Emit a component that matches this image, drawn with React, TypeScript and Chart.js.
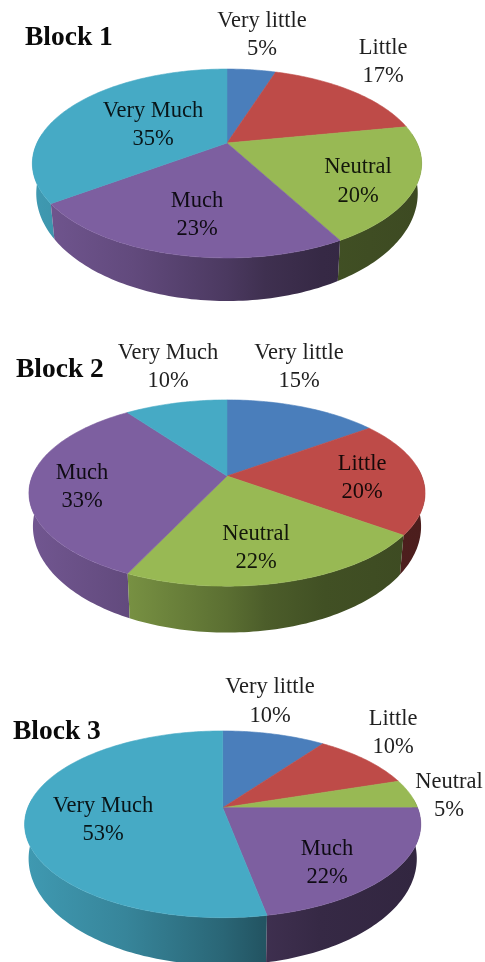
import { useEffect, useRef } from "react";
import { Chart, registerables } from "chart.js";

Chart.register(...registerables);

const categories = ["Very little", "Little", "Neutral", "Much", "Very Much"];
const sliceColors = ["#4a7ebb", "#be4b48", "#98b954", "#7d5fa0", "#46aac5"];

const blockOneValues = [5, 17, 20, 23, 35];
const blockTwoValues = [15, 20, 22, 33, 10];
const blockThreeValues = [10, 10, 5, 22, 53];

// Brightness of the rim from the left edge of the pie to the right edge.
const rimShade: [number, number][] = [
  [0, 0.9],
  [0.25, 0.78],
  [0.5, 0.6],
  [0.6, 0.5],
  [0.75, 0.43],
  [1, 0.4],
];

type LabelSpot = [x: number, firstBaseline: number, secondBaseline: number];

type Block = {
  title: string;
  titleSpot: [number, number];
  values: number[];
  top: number;
  height: number;
  centerX: number;
  centerY: number;
  radius: number;
  squash: number;
  tilt: number;
  rimDrop: number;
  labelSpots: LabelSpot[];
};

const blocks: Block[] = [
  {
    title: "Block 1",
    titleSpot: [25, 45],
    values: blockOneValues,
    top: 0,
    height: 320,
    centerX: 227,
    centerY: 143,
    radius: 190,
    squash: 90 / 190,
    tilt: 0.217,
    rimDrop: 27,
    labelSpots: [
      [262, 27, 55],
      [383, 54, 82],
      [358, 173, 202],
      [197, 207, 235],
      [153, 117, 145],
    ],
  },
  {
    title: "Block 2",
    titleSpot: [16, 377],
    values: blockTwoValues,
    top: 320,
    height: 320,
    centerX: 227,
    centerY: 476,
    radius: 194.7,
    squash: 90 / 194.7,
    tilt: 0.183,
    rimDrop: 31,
    labelSpots: [
      [299, 359, 387],
      [362, 470, 498],
      [256, 540, 568],
      [82, 479, 507],
      [168, 359, 387],
    ],
  },
  {
    title: "Block 3",
    titleSpot: [13, 739],
    values: blockThreeValues,
    top: 640,
    height: 322,
    centerX: 222.7,
    centerY: 807.7,
    radius: 194.9,
    squash: 90.4 / 194.9,
    tilt: 0.178,
    rimDrop: 32,
    labelSpots: [
      [270, 693, 722],
      [393, 725, 753],
      [449, 788, 816],
      [327, 855, 883],
      [103, 812, 840],
    ],
  },
];

const CANVAS_WIDTH = 485;

function shadeColor(hex: string, factor: number): string {
  const n = parseInt(hex.slice(1), 16);
  const r = Math.round(((n >> 16) & 255) * factor);
  const g = Math.round(((n >> 8) & 255) * factor);
  const b = Math.round((n & 255) * factor);
  return `rgb(${r},${g},${b})`;
}

// Perspective view of a flat disc: the far edge shrinks and the hub sits above the ellipse's middle.
function makeProjection(x0: number, y0: number, radius: number, block: Block) {
  return (angle: number, lower: boolean): [number, number] => {
    const u = Math.cos(angle);
    const v = Math.sin(angle);
    const w = 1 - block.tilt * v;
    const px = (radius * u) / w;
    const py = (radius * block.squash * v) / w;
    if (!lower) return [x0 + px, y0 + py];
    return [x0 + px * 0.98, y0 + py * 1.14 + block.rimDrop];
  };
}

const perspectivePie = {
  id: "perspectivePie",
  beforeDatasetDraw(chart: any, _args: any, opts: any) {
    const block: Block = opts.block;
    const ctx: CanvasRenderingContext2D = chart.ctx;
    const arcs = chart.getDatasetMeta(0).data as any[];
    const colors = chart.data.datasets[0].backgroundColor as string[];

    const first = arcs[0];
    const project = makeProjection(first.x, first.y, first.outerRadius, block);
    const steps = (a: number, b: number) => Math.max(2, Math.ceil((b - a) / 0.02));

    // Rim, back to front, only where it faces the viewer.
    const rimOrder = arcs
      .map((arc, i) => ({ arc, i }))
      .sort(
        (p, q) =>
          Math.sin((p.arc.startAngle + p.arc.endAngle) / 2) -
          Math.sin((q.arc.startAngle + q.arc.endAngle) / 2)
      );
    for (const { arc, i } of rimOrder) {
      const a = Math.max(arc.startAngle, -0.1);
      const b = Math.min(arc.endAngle, Math.PI + 0.1);
      if (b <= a) continue;
      const grad = ctx.createLinearGradient(first.x - first.outerRadius, 0, first.x + first.outerRadius, 0);
      for (const [stop, factor] of rimShade) grad.addColorStop(stop, shadeColor(colors[i], factor));
      const n = steps(a, b);
      ctx.beginPath();
      for (let k = 0; k <= n; k++) {
        const [x, y] = project(a + ((b - a) * k) / n, false);
        if (k === 0) ctx.moveTo(x, y);
        else ctx.lineTo(x, y);
      }
      for (let k = n; k >= 0; k--) {
        const [x, y] = project(a + ((b - a) * k) / n, true);
        ctx.lineTo(x, y);
      }
      ctx.closePath();
      ctx.fillStyle = grad;
      ctx.fill();
    }

    // Top face of each slice.
    arcs.forEach((arc, i) => {
      const n = steps(arc.startAngle, arc.endAngle);
      ctx.beginPath();
      ctx.moveTo(arc.x, arc.y);
      for (let k = 0; k <= n; k++) {
        const [x, y] = project(arc.startAngle + ((arc.endAngle - arc.startAngle) * k) / n, false);
        ctx.lineTo(x, y);
      }
      ctx.closePath();
      ctx.fillStyle = colors[i];
      ctx.strokeStyle = colors[i];
      ctx.lineWidth = 0.6;
      ctx.fill();
      ctx.stroke();
    });
    return false;
  },
  afterDraw(chart: any, _args: any, opts: any) {
    const block: Block = opts.block;
    const ctx: CanvasRenderingContext2D = chart.ctx;
    const labels = chart.data.labels as string[];
    const values = chart.data.datasets[0].data as number[];

    ctx.save();
    ctx.fillStyle = "rgba(0,0,0,0.88)";
    ctx.textBaseline = "alphabetic";
    ctx.textAlign = "center";
    ctx.font = '22.5px "Liberation Serif"';
    block.labelSpots.forEach(([x, y1, y2], i) => {
      ctx.fillText(labels[i], x, y1 - block.top);
      ctx.fillText(`${values[i]}%`, x, y2 - block.top);
    });
    ctx.fillStyle = "#0a0a0a";
    ctx.textAlign = "left";
    ctx.font = 'bold 27.5px "Liberation Serif"';
    ctx.fillText(block.title, block.titleSpot[0], block.titleSpot[1] - block.top);
    ctx.restore();
  },
};

function BlockPie({ block }: { block: Block }) {
  const ref = useRef<HTMLCanvasElement>(null);

  useEffect(() => {
    const localY = block.centerY - block.top;
    const chart = new Chart(ref.current!, {
      type: "pie",
      data: {
        labels: categories,
        datasets: [
          {
            data: block.values,
            backgroundColor: sliceColors,
            borderWidth: 0,
          },
        ],
      },
      plugins: [perspectivePie],
      options: {
        animation: false,
        responsive: false,
        maintainAspectRatio: false,
        radius: block.radius,
        layout: {
          padding: {
            left: 0,
            right: CANVAS_WIDTH - 2 * block.centerX,
            top: Math.max(0, 2 * localY - block.height),
            bottom: Math.max(0, block.height - 2 * localY),
          },
        },
        plugins: {
          legend: { display: false },
          tooltip: { enabled: false },
          perspectivePie: { block },
        },
      } as any,
    });
    return () => chart.destroy();
  }, [block]);

  return (
    <canvas
      ref={ref}
      width={CANVAS_WIDTH}
      height={block.height}
      style={{ position: "absolute", left: 0, top: block.top, width: CANVAS_WIDTH, height: block.height }}
    />
  );
}

export default function App() {
  return (
    <div
      style={{
        position: "absolute",
        left: 0,
        top: 0,
        width: CANVAS_WIDTH,
        height: 962,
        overflow: "hidden",
        background: "#fff",
      }}
    >
      {blocks.map((block) => (
        <BlockPie key={block.title} block={block} />
      ))}
    </div>
  );
}
